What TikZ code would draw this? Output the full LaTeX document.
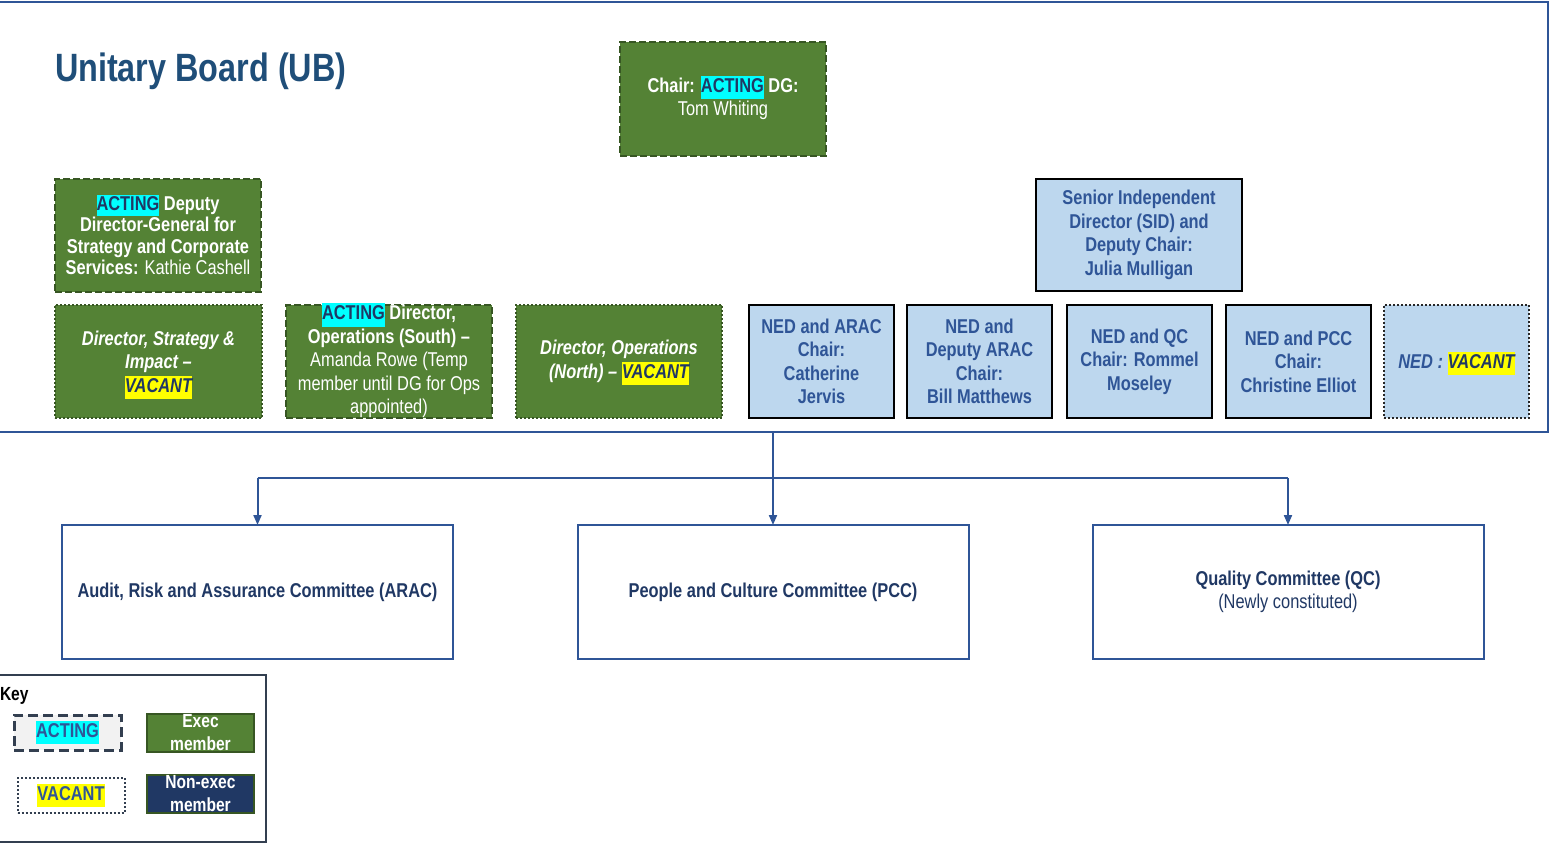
\documentclass[tikz,border=0pt]{standalone}
\usepackage{fontspec}
\setmainfont[FakeStretch=0.82]{Liberation Sans}
\usetikzlibrary{arrows.meta}
\definecolor{gfill}{HTML}{548235}
\definecolor{gline}{HTML}{375623}
\definecolor{bfill}{HTML}{BDD7EE}
\definecolor{nedtxt}{HTML}{2F5597}
\definecolor{navy}{HTML}{203864}
\definecolor{ubline}{HTML}{2F5597}
\definecolor{titlec}{HTML}{1F4E79}
\definecolor{hcyan}{HTML}{00FFFF}
\definecolor{hyellow}{HTML}{FFFF00}
\definecolor{keyline}{HTML}{333F50}
\definecolor{keygrey}{HTML}{F2F2F2}
\newcommand\hlC[2][navy]{\smash{\setlength{\fboxsep}{0pt}\colorbox{hcyan}{\strut\textcolor{#1}{#2}}}}
\newcommand\hlY[2][navy]{\smash{\setlength{\fboxsep}{0pt}\colorbox{hyellow}{\strut\textcolor{#1}{#2}}}}
\begin{document}
\begin{tikzpicture}[x=1pt,y=-1pt,
  every node/.style={inner sep=0pt, outer sep=0pt, align=center},
  txt/.style={font=\fontsize{20}{23.5}\selectfont\bfseries},
  exec/.style={txt, draw=gline, fill=gfill, text=white, line width=2.5pt},
  actingline/.style={dash pattern=on 7pt off 3pt},
  vacantline/.style={dash pattern=on 2pt off 2pt},
  ned/.style={txt, draw=black, fill=bfill, text=nedtxt, line width=2.5pt, minimum width=145pt, minimum height=113pt},
  committee/.style={txt, draw=ubline, line width=2pt, text=navy, minimum width=391pt, minimum height=134pt},
  conn/.style={draw=ubline, line width=2pt},
  arr/.style={conn, -{Triangle[length=10pt,width=8pt]}},
  keysw/.style={font=\fontsize{20}{23}\selectfont\bfseries, minimum width=107pt, minimum height=35pt},
]
\useasboundingbox (0,0) rectangle (1551,844);

% board frame
\node[draw=ubline, line width=2pt, minimum width=1554pt, minimum height=430pt] (board) at (771,217) {};
\node[anchor=base west, font=\fontsize{39.5}{45}\selectfont\bfseries, text=titlec] (title) at (55,81) {Unitary Board (UB)};

% exec members
\node[exec, actingline, minimum width=206pt, minimum height=114pt] (chair) at (723,99)
  {Chair: \hlC{ACTING} DG:\\\mdseries Tom Whiting};
\node[exec, actingline, font=\fontsize{20}{21.5}\selectfont\bfseries, minimum width=206pt, minimum height=113pt] (ddg) at (158,235.5)
  {\hlC{ACTING} Deputy\\Director-General for\\Strategy and Corporate\\Services: {\mdseries Kathie Cashell}};
\node[exec, vacantline, line width=2pt, minimum width=207pt, minimum height=113pt] (dsi) at (158.5,361.5)
  {\itshape Director, Strategy \&\\\itshape Impact --\\\hlY{\itshape VACANT}};
\node[exec, actingline, minimum width=206pt, minimum height=113pt] (dos) at (389,361.5)
  {\hlC{ACTING} Director,\\Operations (South) --\\\mdseries Amanda Rowe (Temp\\\mdseries member until DG for Ops\\\mdseries appointed)};
\node[exec, vacantline, line width=2pt, minimum width=206pt, minimum height=113pt] (don) at (619,361.5)
  {\itshape Director, Operations\\\itshape (North) -- \hlY{\itshape VACANT}};

% non-exec members
\node[ned, minimum width=206pt, minimum height=112pt] (sid) at (1139,235)
  {Senior Independent\\Director (SID) and\\Deputy Chair:\\Julia Mulligan};
\node[ned] (ned1) at (821.5,361.5) {NED and ARAC\\Chair:\\Catherine\\Jervis};
\node[ned] (ned2) at (979.5,361.5) {NED and\\Deputy ARAC\\Chair:\\Bill Matthews};
\node[ned] (ned3) at (1139.5,361.5) {NED and QC\\Chair: Rommel\\Moseley};
\node[ned] (ned4) at (1298.5,361.5) {NED and PCC\\Chair:\\Christine Elliot};
\node[ned, vacantline, draw=black!85, line width=2pt] (ned5) at (1456.5,361.5) {\itshape NED : \hlY{\itshape VACANT}};

% committees
\node[committee] (arac) at (257.5,592) {Audit, Risk and Assurance Committee (ARAC)};
\node[committee] (pcc) at (773,592) {People and Culture Committee (PCC)};
\node[committee] (qc) at (1288,592) {Quality Committee (QC)\\\mdseries (Newly constituted)};

% connectors
\coordinate (split) at (773,478);
\draw[arr] (board.south -| pcc.north) -- (pcc.north);
\draw[conn] (arac.north |- split) -- (qc.north |- split);
\draw[arr] (arac.north |- split) -- (arac.north);
\draw[arr] (qc.north |- split) -- (qc.north);

% key
\node[draw=keyline, line width=2pt, minimum width=272pt, minimum height=167pt] (keybox) at (130,758.5) {};
\node[anchor=base west, font=\fontsize{19}{21}\selectfont\bfseries] (keylbl) at (0,700) {Key};
\node[keysw, draw=keyline, fill=keygrey, line width=3pt, dash pattern=on 10pt off 5pt] (kact) at (67.5,732.5)
  {\vphantom{Ag}\hlC[nedtxt]{ACTING}};
\node[keysw, draw=keyline, fill=white, line width=2pt, vacantline] (kvac) at (71,795.5)
  {\vphantom{Ag}\hlY[nedtxt]{VACANT}};
\node[keysw, draw=gline, fill=gfill, text=white, line width=2.5pt, minimum height=38pt, font=\fontsize{19}{23}\selectfont\bfseries] (kexec) at (200.5,733)
  {Exec\\member};
\node[keysw, draw=gline, fill=navy, text=white, line width=2.5pt, minimum height=38pt, font=\fontsize{19}{23}\selectfont\bfseries] (knon) at (200.5,794)
  {Non-exec\\member};
\end{tikzpicture}
\end{document}
